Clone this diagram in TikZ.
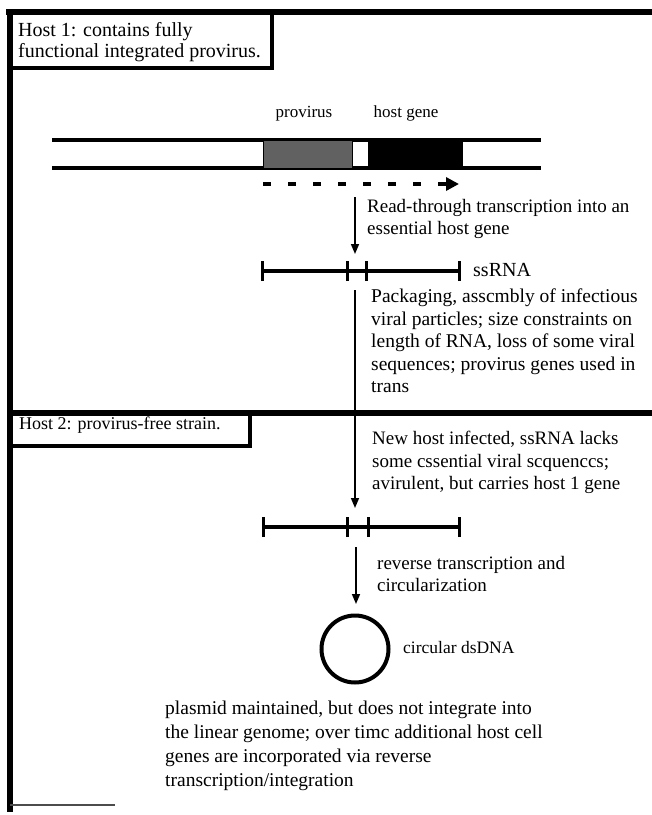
\documentclass[tikz,border=0pt]{standalone}
\usepackage{fontspec}
\setmainfont{Liberation Serif}
\usetikzlibrary{arrows.meta}
\begin{document}
\begin{tikzpicture}[x=1pt,y=-1pt,
  frame/.style={line width=5.5pt},
  boxline/.style={line width=4pt},
  dna/.style={line width=4pt},
  rnaline/.style={line width=3.5pt},
  tick/.style={line width=3pt},
  txt/.style={anchor=north west, inner sep=0pt, align=left, font=\fontsize{19}{22.5}\selectfont},
  lbl/.style={anchor=base, inner sep=0pt, font=\fontsize{17}{20}\selectfont},
  arr/.style={line width=1.6pt, -{Triangle[length=10pt,width=8pt]}}]
\useasboundingbox (0,0) rectangle (652,815);
% outer frame
\draw[frame] (6,12) -- (652,12);
\draw[frame] (10,10) -- (10,812);
\draw[line width=1.5pt, black!70] (10,805) -- (115,805);
% host 1 box
\draw[boxline] (10,12) rectangle (272,68);
\node[txt, font=\fontsize{20}{21.5}\selectfont] (host1) at (18,22) {Host 1: contains fully\\functional integrated provirus.};
% host 2 line and box
\draw[frame] (10,413) -- (652,413);
\draw[boxline] (10,413) rectangle (250,446);
\node[txt, font=\fontsize{18}{22}\selectfont] (host2) at (19,417) {Host 2: provirus-free strain.};
% chromosome
\draw[dna] (52,140) -- (541,140);
\draw[dna] (52,168) -- (541,168);
\fill[black!62] (263,140) rectangle (352,168);
\draw[line width=1pt] (263,140) rectangle (352,168);
\fill[black] (368,138) rectangle (463,170);
\node[lbl] (provlbl) at (304,117) {provirus};
\node[lbl] (hostlbl) at (406,117) {host gene};
% dashed transcription arrow
\coordinate (ds) at (263,184);
\coordinate (de) at (459,184);
\draw[line width=4pt, dash pattern=on 8pt off 17pt, -{Triangle[length=13pt,width=13pt]}] (ds) -- (de);
% arrow 1
\coordinate (a1s) at (355,197);
\coordinate (a1e) at (355,254);
\draw[arr] (a1s) -- (a1e);
\node[txt] (readthrough) at (367,199) {Read-through transcription into an\\essential host gene};
% ssRNA 1
\coordinate (r1a) at (262,271);
\coordinate (r1b) at (347,271);
\coordinate (r1c) at (366,271);
\coordinate (r1d) at (459,271);
\draw[rnaline] (r1a) -- (r1d);
\foreach \p in {r1a,r1b,r1c,r1d} \draw[tick] ([yshift=-10pt]\p) -- ([yshift=10pt]\p);
\node[anchor=west, inner sep=0pt, font=\fontsize{20}{24}\selectfont] (ssrna) at (473,270) {ssRNA};
% arrow 2
\coordinate (a2s) at (355,290);
\coordinate (a2e) at (355,508);
\draw[arr] (a2s) -- (a2e);
\node[txt, font=\fontsize{19.5}{22.5}\selectfont] (packaging) at (371,289) {Packaging, asscmbly of infectious\\viral particles; size constraints on\\length of RNA, loss of some viral\\sequences; provirus genes used in\\trans};
\node[txt] (newhost) at (372,431) {New host infected, ssRNA lacks\\some cssential viral scquenccs;\\avirulent, but carries host 1 gene};
% ssRNA 2
\coordinate (r2a) at (263,527);
\coordinate (r2b) at (347,527);
\coordinate (r2c) at (368,527);
\coordinate (r2d) at (459,527);
\draw[rnaline] (r2a) -- (r2d);
\foreach \p in {r2a,r2b,r2c,r2d} \draw[tick] ([yshift=-10pt]\p) -- ([yshift=10pt]\p);
% arrow 3
\coordinate (a3s) at (356,547);
\coordinate (a3e) at (356,604);
\draw[arr] (a3s) -- (a3e);
\node[txt] (reverse) at (377,556) {reverse transcription and\\circularization};
% circle
\node[draw, circle, line width=4pt, minimum size=67pt, inner sep=0pt] (plasmid) at (355,649) {};
\node[anchor=west, inner sep=0pt, font=\fontsize{17.5}{22}\selectfont] (circlbl) at (403,648) {circular dsDNA};
\node[txt, font=\fontsize{19.5}{24}\selectfont] (bottom) at (165,701) {plasmid maintained, but does not integrate into\\the linear genome; over timc additional host cell\\genes are incorporated via reverse\\transcription/integration};
\end{tikzpicture}
\end{document}
